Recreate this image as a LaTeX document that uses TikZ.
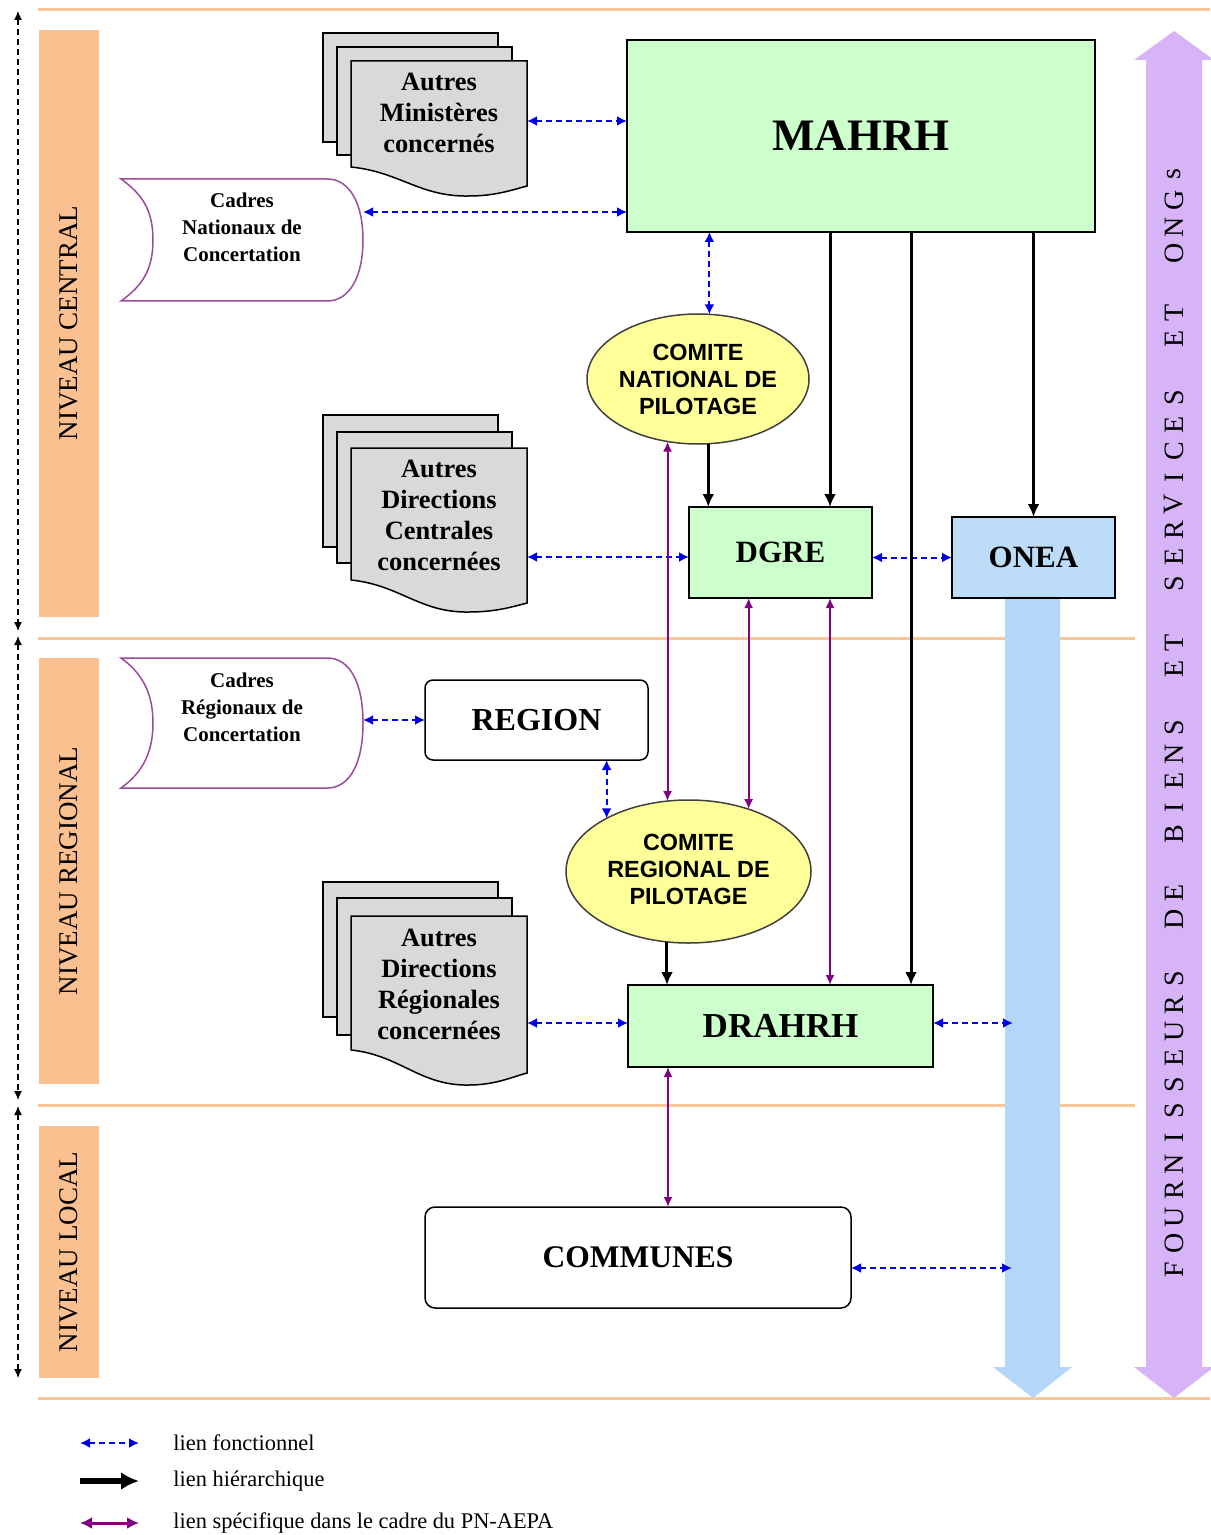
\documentclass[tikz,border=0pt]{standalone}
\usepackage{fontspec}
\setmainfont{Liberation Serif}
\newfontfamily\sansfam{Liberation Sans}
\usetikzlibrary{arrows.meta,shapes.geometric}
\definecolor{vert}{HTML}{CCFFCC}
\definecolor{jaune}{HTML}{FFFF99}
\definecolor{oneabl}{HTML}{BDDCF8}
\definecolor{flowbl}{HTML}{B4D6F8}
\definecolor{flowvi}{HTML}{D7B4F8}
\definecolor{orangeb}{HTML}{FAC08F}
\definecolor{orangel}{HTML}{FAC898}
\definecolor{docgray}{HTML}{D9D9D9}
\definecolor{fblue}{HTML}{0000E6}
\definecolor{specv}{HTML}{800080}
\definecolor{cadrev}{HTML}{9C4A9C}
% #1 back top, #2 back bottom, #3 mid top, #4 mid bottom, #5 front top, #6 front left bottom, #7 front right bottom, #8 trough
\newcommand{\docstack}[8]{%
  \filldraw[docsheet] (323,#1) rectangle (498,#2);
  \filldraw[docsheet] (337,#3) rectangle (512,#4);
  \filldraw[docsheet] (351,#5) -- (527,#5) -- (527,#7)
     .. controls (512,{#7+4}) and (495,#8) .. (469,#8)
     .. controls (420,{#8+1}) and (400,{#6+5}) .. (351,#6) -- cycle;
}
% #1 top, #2 bottom
\newcommand{\cadreshape}[2]{%
  \filldraw[cadre] (121,#1) -- (327,#1)
    .. controls (350,#1) and (363,{#1+25}) .. (363,{(#1+#2)/2})
    .. controls (363,{#2-25}) and (350,#2) .. (327,#2) -- (121,#2)
    .. controls (142,{#2-15}) and (153,{(#1+#2)/2+30}) .. (153,{(#1+#2)/2})
    .. controls (153,{(#1+#2)/2-30}) and (142,{#1+15}) .. (121,#1) -- cycle;
}
\begin{document}
\begin{tikzpicture}[x=0.5pt,y=-0.5pt,
  box/.style={draw=black, line width=0.75pt, inner sep=0pt, outer sep=0pt, align=center},
  greenbox/.style={box, fill=vert},
  func/.style={draw=fblue, line width=1pt, dash pattern=on 3pt off 2pt,
     arrows={Latex[length=5pt,width=5pt]-Latex[length=5pt,width=5pt]}},
  hier/.style={draw=black, line width=1.5pt, arrows={-Latex[length=6.5pt,width=6pt]}},
  spec/.style={draw=specv, line width=1pt,
     arrows={Latex[length=5pt,width=4.5pt]-Latex[length=5pt,width=4.5pt]}},
  axisarrow/.style={draw=black, line width=0.6pt, dash pattern=on 3pt off 2pt,
     arrows={Latex[length=4.5pt,width=4pt]-Latex[length=4.5pt,width=4pt]}},
  orangeline/.style={draw=orangel, line width=1.5pt},
  docsheet/.style={draw=black, line width=0.75pt, fill=docgray},
  cadre/.style={draw=cadrev, line width=0.75pt, fill=white},
  doctext/.style={inner sep=0pt, outer sep=0pt, minimum width=88pt, align=center,
     font=\bfseries\fontsize{13.2}{15.5}\selectfont},
  cadretext/.style={inner sep=0pt, outer sep=0pt, minimum width=121pt, align=center,
     font=\bfseries\fontsize{10.5}{13.5}\selectfont},
  comite/.style={ellipse, draw=black!75, line width=0.75pt, fill=jaune, inner sep=0pt, outer sep=0pt},
  comitetext/.style={align=center, inner sep=0pt, font=\sansfam\bfseries\fontsize{11.7}{13.5}\selectfont},
  bandtext/.style={rotate=90, inner sep=0pt, font=\fontsize{13.5}{15}\selectfont},
  sideletter/.style={rotate=90, inner sep=0pt, font=\fontsize{14}{15}\selectfont},
  legtext/.style={anchor=west, inner sep=0pt, font=\fontsize{11.2}{13}\selectfont}
]
\useasboundingbox (0,0) rectangle (1210,1535);
\fill[white] (0,0) rectangle (1210,1535);

% level separators
\draw[orangeline] (38,10) -- (1210,10);
\draw[orangeline] (38,638) -- (1135,638);
\draw[orangeline] (38,1105) -- (1135,1105);
\draw[orangeline] (38,1398) -- (1210,1398);

% level bands
\fill[orangeb] (39,30) rectangle (99,617);
\fill[orangeb] (39,658) rectangle (99,1084);
\fill[orangeb] (39,1126) rectangle (99,1378);
\node[bandtext] (bc) at (69,323) {NIVEAU CENTRAL};
\node[bandtext] (br) at (69,871) {NIVEAU REGIONAL};
\node[bandtext] (bl) at (69,1252) {NIVEAU LOCAL};

% left axis
\coordinate (ax0) at (18,11);
\coordinate (ax1) at (18,631);
\coordinate (ax2) at (18,636);
\coordinate (ax3) at (18,1100);
\coordinate (ax4) at (18,1106);
\coordinate (ax5) at (18,1378);
\draw[axisarrow] (ax0) -- (ax1);
\draw[axisarrow] (ax2) -- (ax3);
\draw[axisarrow] (ax4) -- (ax5);

% big flow arrows
\fill[flowbl] (1005,598) -- (1060,598) -- (1060,1367) -- (1072,1367) -- (1033,1398)
   -- (993,1367) -- (1005,1367) -- cycle;
\fill[flowvi] (1174,31) -- (1214,60) -- (1202,60) -- (1202,1367) -- (1214,1367)
   -- (1174,1398) -- (1134,1367) -- (1146,1367) -- (1146,60) -- (1134,60) -- cycle;
\foreach \ch/\yy [count=\i] in {F/1270,O/1243.5,U/1217,R/1190.5,N/1164,I/1137.5,S/1111,S/1084.5,E/1058,U/1031.5,R/1005,S/978.5,D/919.5,E/893,B/834,I/807.5,E/781,N/754.5,S/728,E/669,T/642.5,S/583.5,E/557,R/530.5,V/504,I/477.5,C/451,E/424.5,S/398,E/339,T/312.5,O/253.5,N/227,G/200.5,s/174}
  \node[sideletter] (side\i) at (1174,\yy) {\ch};

% document stacks and cadres
\docstack{33}{142}{47}{155}{61}{167}{186}{196}
\docstack{415}{547}{432}{563}{448}{580}{603}{612}
\docstack{882}{1017}{898}{1035}{916}{1050}{1073}{1085}
\node[doctext] (docsA) at (439,113) {Autres\\Ministères\\concernés};
\node[doctext] (docsB) at (439,515) {Autres\\Directions\\Centrales\\concernées};
\node[doctext] (docsC) at (439,984) {Autres\\Directions\\Régionales\\concernées};
\cadreshape{179}{301}
\cadreshape{658}{788}
\node[cadretext] (cnc) at (242,227) {Cadres\\Nationaux de\\Concertation};
\node[cadretext] (cnr) at (242,707) {Cadres\\Régionaux de\\Concertation};

% main boxes
\node[greenbox, minimum width=234pt, minimum height=96pt,
  font=\bfseries\fontsize{22.5}{27}\selectfont] (mahrh) at (861,136) {MAHRH};
\node[greenbox, minimum width=91.5pt, minimum height=45.5pt,
  font=\bfseries\fontsize{15.5}{18}\selectfont] (dgre) at (780.5,552.5) {DGRE};
\node[box, fill=oneabl, minimum width=81.5pt, minimum height=40.5pt,
  font=\bfseries\fontsize{15.5}{18}\selectfont] (onea) at (1033.5,557.5) {ONEA};
\node[greenbox, minimum width=152.5pt, minimum height=41pt,
  font=\bfseries\fontsize{17.5}{20}\selectfont] (drahrh) at (780.5,1026) {DRAHRH};
\node[box, fill=white, rounded corners=4pt, minimum width=111.5pt, minimum height=40pt,
  font=\bfseries\fontsize{16}{19}\selectfont] (region) at (536.5,720) {REGION};
\node[box, fill=white, rounded corners=5pt, minimum width=213pt, minimum height=50.5pt,
  font=\bfseries\fontsize{15.75}{19}\selectfont] (communes) at (638,1257.5) {COMMUNES};

\node[comite, minimum width=111pt, minimum height=65pt] (cnp) at (698,379) {};
\node[comitetext] (cnptxt) at (698,379) {COMITE\\NATIONAL DE\\PILOTAGE};
\node[comite, minimum width=122.5pt, minimum height=71.5pt] (crp) at (688.5,871.5) {};
\node[comitetext] (crptxt) at (688.5,869) {COMITE\\REGIONAL DE\\PILOTAGE};

% helper coordinates
\coordinate (y121) at (0,121);
\coordinate (y212) at (0,212);
\coordinate (y557) at (0,557);
\coordinate (y1023) at (0,1023);
\coordinate (y1268) at (0,1268);
\coordinate (x668) at (668,0);
\coordinate (x830) at (830,0);
\coordinate (x911) at (911,0);
\coordinate (flowA) at (1013,1023);
\coordinate (flowB) at (1012,1268);

% functional links
\draw[func] (docsA.east |- y121) -- (mahrh.west |- y121);
\draw[func] (cnc.east |- y212) -- (mahrh.west |- y212);
\draw[func] (mahrh.south -| cnp.80) -- (cnp.80);
\draw[func] (docsB.east |- y557) -- (dgre.west |- y557);
\draw[func] (dgre.east |- onea.west) -- (onea.west);
\draw[func] (cnr.east |- region.west) -- (region.west);
\draw[func] (region.south -| crp.147) -- (crp.147);
\draw[func] (docsC.east |- y1023) -- (drahrh.west |- y1023);
\draw[func] (drahrh.east |- flowA) -- (flowA);
\draw[func] (communes.east |- flowB) -- (flowB);

% hierarchical links
\draw[hier] (cnp.279) -- (cnp.279 |- dgre.north);
\draw[hier] (mahrh.south -| x830) -- (dgre.north -| x830);
\draw[hier] (mahrh.south -| x911) -- (drahrh.north -| x911);
\draw[hier] (mahrh.south -| onea.north) -- (onea.north);
\draw[hier] (crp.253) -- (crp.253 |- drahrh.north);

% PN-AEPA specific links
\draw[spec] (cnp.244) -- (cnp.244 |- crp.107);
\draw[spec] (dgre.south -| crp.46) -- (crp.46);
\draw[spec] (dgre.south -| x830) -- (drahrh.north -| x830);
\draw[spec] (drahrh.south -| x668) -- (communes.north -| x668);

% legend
\coordinate (lg1a) at (80,1443);
\coordinate (lg1b) at (139,1443);
\coordinate (lg2a) at (80,1481);
\coordinate (lg2b) at (139,1481);
\coordinate (lg3a) at (80,1523);
\coordinate (lg3b) at (139,1523);
\draw[func, line width=1.2pt] (lg1a) -- (lg1b);
\draw[draw=black, line width=3pt, arrows={-Latex[length=9pt,width=9pt]}] (lg2a) -- (lg2b);
\draw[draw=specv, line width=1.5pt, arrows={Latex[length=6pt,width=6pt]-Latex[length=6pt,width=6pt]}] (lg3a) -- (lg3b);
\node[legtext] (lt1) at (173,1443) {lien fonctionnel};
\node[legtext] (lt2) at (173,1481) {lien hiérarchique};
\node[legtext] (lt3) at (173,1523) {lien spécifique dans le cadre du PN-AEPA};
\end{tikzpicture}
\end{document}
